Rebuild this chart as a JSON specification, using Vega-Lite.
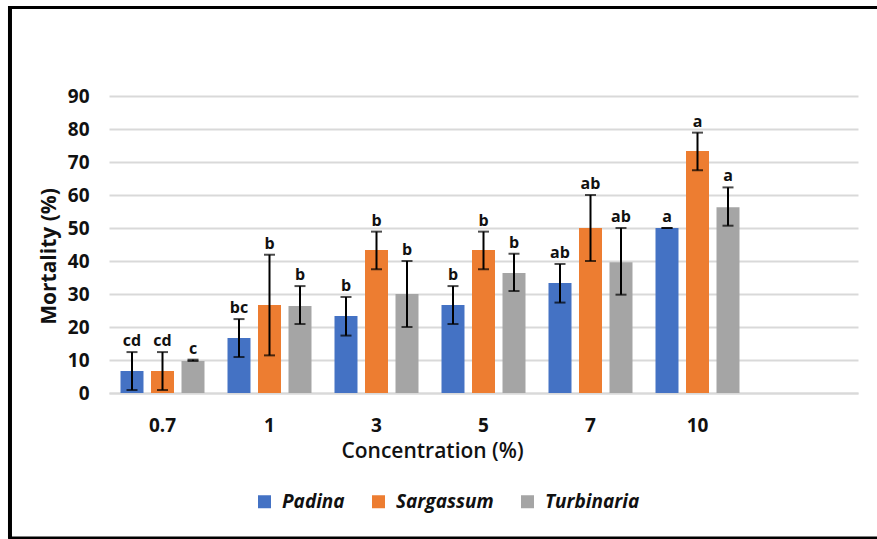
{
  "$schema": "https://vega.github.io/schema/vega-lite/v6.json",
  "width": 749,
  "height": 297,
  "autosize": {"type": "none"},
  "padding": {"left": 109, "top": 96, "right": 19, "bottom": 146},
  "background": "white",
  "config": {
    "font": "Open Sans",
    "view": {"stroke": null},
    "axis": {"labelColor": "#111111", "titleColor": "#111111"}
  },
  "datasets": {
    "bars": [
      {"conc": "0.7", "species": "Padina", "mean": 6.67, "lo": 0.9, "hi": 12.4, "letter": "cd"},
      {"conc": "0.7", "species": "Sargassum", "mean": 6.67, "lo": 0.9, "hi": 12.4, "letter": "cd"},
      {"conc": "0.7", "species": "Turbinaria", "mean": 9.7, "lo": 9.7, "hi": 10.1, "letter": "c"},
      {"conc": "1", "species": "Padina", "mean": 16.67, "lo": 10.9, "hi": 22.4, "letter": "bc"},
      {"conc": "1", "species": "Sargassum", "mean": 26.67, "lo": 11.4, "hi": 41.9, "letter": "b"},
      {"conc": "1", "species": "Turbinaria", "mean": 26.4, "lo": 20.9, "hi": 32.4, "letter": "b"},
      {"conc": "3", "species": "Padina", "mean": 23.33, "lo": 17.4, "hi": 29.1, "letter": "b"},
      {"conc": "3", "species": "Sargassum", "mean": 43.33, "lo": 37.5, "hi": 48.9, "letter": "b"},
      {"conc": "3", "species": "Turbinaria", "mean": 30, "lo": 20, "hi": 40, "letter": "b"},
      {"conc": "5", "species": "Padina", "mean": 26.67, "lo": 20.9, "hi": 32.4, "letter": "b"},
      {"conc": "5", "species": "Sargassum", "mean": 43.33, "lo": 37.5, "hi": 48.9, "letter": "b"},
      {"conc": "5", "species": "Turbinaria", "mean": 36.4, "lo": 30.9, "hi": 42.2, "letter": "b"},
      {"conc": "7", "species": "Padina", "mean": 33.33, "lo": 27.4, "hi": 39.1, "letter": "ab"},
      {"conc": "7", "species": "Sargassum", "mean": 50, "lo": 40, "hi": 60, "letter": "ab"},
      {"conc": "7", "species": "Turbinaria", "mean": 39.6, "lo": 29.8, "hi": 50, "letter": "ab"},
      {"conc": "10", "species": "Padina", "mean": 50, "lo": 50, "hi": 50, "letter": "a"},
      {"conc": "10", "species": "Sargassum", "mean": 73.33, "lo": 67.5, "hi": 78.9, "letter": "a"},
      {"conc": "10", "species": "Turbinaria", "mean": 56.3, "lo": 50.7, "hi": 62.3, "letter": "a"}
    ]
  },
  "resolve": {
    "scale": {"x": "independent", "y": "independent"},
    "axis": {"x": "independent", "y": "independent"}
  },
  "layer": [
    {
      "data": {"name": "bars"},
      "encoding": {
        "x": {
          "field": "conc", "type": "nominal",
          "scale": {"domain": ["0.7", "1", "3", "5", "7", "10", "_"], "paddingInner": 0.215, "paddingOuter": 0.1075},
          "axis": {
            "title": "Concentration (%)",
            "labelExpr": "datum.value == '_' ? '' : datum.label",
            "labelAngle": 0,
            "labelFontSize": 19,
            "labelFontWeight": "bold",
            "labelPadding": 23,
            "ticks": false,
            "domainColor": "#d9d9d9",
            "domainWidth": 2,
            "titleFontSize": 21,
            "titleFontWeight": 600,
            "titlePadding": 5,
            "titleX": 323
          }
        },
        "xOffset": {
          "field": "species", "type": "nominal",
          "scale": {"domain": ["Padina", "Sargassum", "Turbinaria"], "paddingInner": 0.246, "paddingOuter": 0}
        },
        "y": {
          "field": "mean", "type": "quantitative",
          "scale": {"domain": [0, 90], "nice": false},
          "axis": {
            "title": "Mortality (%)",
            "values": [0, 10, 20, 30, 40, 50, 60, 70, 80, 90],
            "tickCount": 10,
            "labelOverlap": false,
            "labelFontSize": 19,
            "labelFontWeight": "bold",
            "labelPadding": 20,
            "ticks": false,
            "domain": false,
            "gridColor": "#d9d9d9",
            "gridWidth": 2,
            "titleFontSize": 21,
            "titleFontWeight": "bold",
            "titlePadding": 8,
            "titleY": 160
          }
        }
      },
      "layer": [
        {
          "mark": {"type": "bar"},
          "encoding": {
            "color": {
              "field": "species", "type": "nominal",
              "scale": {"domain": ["Padina", "Sargassum", "Turbinaria"], "range": ["#4472C4", "#ED7D31", "#A5A5A5"]},
              "legend": {
                "title": null,
                "orient": "none",
                "legendX": 146,
                "legendY": 396,
                "direction": "horizontal",
                "symbolType": "square",
                "symbolSize": 169,
                "symbolStrokeWidth": 0,
                "labelFontSize": 19,
                "labelFontWeight": "bold",
                "labelFontStyle": "italic",
                "labelColor": "#111111",
                "labelOffset": 8,
                "columnPadding": 24
              }
            }
          }
        },
        {
          "mark": {"type": "rule", "color": "black", "strokeWidth": 2},
          "encoding": {
            "y": {"field": "lo", "type": "quantitative"},
            "y2": {"field": "hi"}
          }
        },
        {
          "mark": {"type": "tick", "color": "black", "thickness": 2, "size": 11, "orient": "horizontal"},
          "encoding": {"y": {"field": "hi", "type": "quantitative"}}
        },
        {
          "mark": {"type": "tick", "color": "black", "thickness": 2, "size": 11, "orient": "horizontal"},
          "encoding": {"y": {"field": "lo", "type": "quantitative"}}
        },
        {
          "mark": {"type": "text", "fontSize": 16, "fontWeight": "bold", "color": "#111111", "dy": -11, "baseline": "middle"},
          "encoding": {
            "y": {"field": "hi", "type": "quantitative"},
            "text": {"field": "letter"}
          }
        }
      ]
    },
    {
      "data": {"values": [{"edge": "frame"}]},
      "layer": [
        {
          "mark": {"type": "rule", "color": "black", "strokeWidth": 4, "clip": false},
          "encoding": {
            "x": {"datum": -0.1322, "type": "quantitative", "scale": {"domain": [0, 1], "nice": false, "zero": false}, "axis": null},
            "y": {"datum": -44.2, "type": "quantitative", "scale": {"domain": [0, 90], "nice": false, "zero": false}, "axis": null},
            "y2": {"datum": 117.3}
          }
        },
        {
          "mark": {"type": "rule", "color": "black", "strokeWidth": 3, "clip": false},
          "encoding": {
            "x": {"datum": -0.1345, "type": "quantitative"},
            "x2": {"datum": 1.0254},
            "y": {"datum": 116.8, "type": "quantitative"}
          }
        },
        {
          "mark": {"type": "rule", "color": "black", "strokeWidth": 2.5, "clip": false},
          "encoding": {
            "x": {"datum": -0.1345, "type": "quantitative"},
            "x2": {"datum": 1.0254},
            "y": {"datum": -43.9, "type": "quantitative"}
          }
        }
      ]
    }
  ]
}
